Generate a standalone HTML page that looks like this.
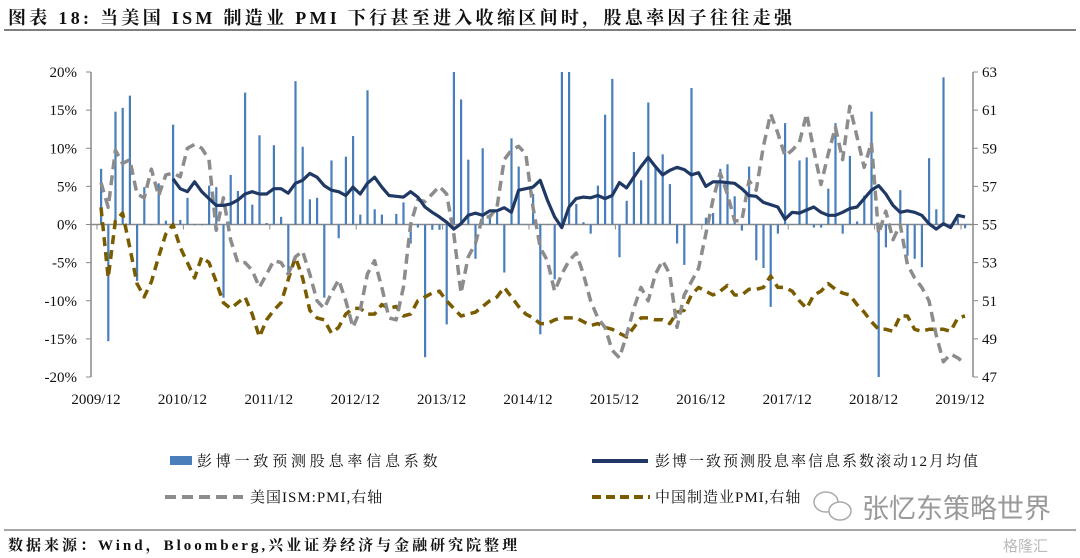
<!DOCTYPE html>
<html><head><meta charset="utf-8">
<style>
body{margin:0;background:#fff;width:1080px;height:558px;overflow:hidden;font-family:"Liberation Serif","Noto Serif CJK SC",serif;}
svg{position:absolute;left:0;top:0}
</style></head>
<body>
<svg id="chart" width="1080" height="558">
<text x="8" y="24" font-size="18" font-weight="bold" fill="#111" letter-spacing="3.3">图表 18:  当美国 ISM 制造业 PMI 下行甚至进入收缩区间时，股息率因子往往走强</text>
<line x1="4" y1="30" x2="1076" y2="30" stroke="#333" stroke-width="1.2"/>
<g id="axes"></g>
<g id="bars"></g>
<g id="lines"></g>
<g font-size="15" fill="#111" letter-spacing="3.8">
 <rect x="170" y="456" width="22" height="9" fill="#4a7ebb"/>
 <text x="197" y="466">彭博一致预测股息率信息系数</text>
 <line x1="592" y1="461" x2="648" y2="461" stroke="#1f3864" stroke-width="4"/>
 <text x="655" y="466" letter-spacing="2">彭博一致预测股息率信息系数滚动12月均值</text>
 <line x1="165" y1="497" x2="243" y2="497" stroke="#8c8c8c" stroke-width="4" stroke-dasharray="11,6"/>
 <text x="250" y="502" letter-spacing="1">美国ISM:PMI,右轴</text>
 <line x1="592" y1="497" x2="650" y2="497" stroke="#7a5c00" stroke-width="4" stroke-dasharray="9,5"/>
 <text x="655" y="502" letter-spacing="1">中国制造业PMI,右轴</text>
</g>
<g>
 <ellipse cx="826" cy="502" rx="12" ry="10" fill="none" stroke="#aaa" stroke-width="1.5"/>
 <ellipse cx="840" cy="511" rx="11" ry="9" fill="#fff" stroke="#aaa" stroke-width="1.5"/>
 <text x="862" y="518" font-size="27" fill="#999" font-family="'Noto Sans CJK SC',sans-serif">张忆东策略世界</text>
</g>
<line x1="4" y1="530" x2="1076" y2="530" stroke="#888" stroke-width="1.5"/>
<text x="8" y="550" font-size="15" font-weight="bold" fill="#111" letter-spacing="3">数据来源：Wind，Bloomberg,兴业证券经济与金融研究院整理</text>
<text x="1003" y="551" font-size="15" fill="#bbb" font-family="'Noto Sans CJK SC',sans-serif">格隆汇</text>
</svg>
<script>
const months = ["2009/12","2010/12","2011/12","2012/12","2013/12","2014/12","2015/12","2016/12","2017/12","2018/12","2019/12"];
const leftTicks = [20,15,10,5,0,-5,-10,-15,-20];
const rightTicks = [63,61,59,57,55,53,51,49,47];
const icBars = [7.3,-15.3,14.8,15.3,16.9,-7.4,4.9,-0.1,5.4,0.5,13.1,0.6,3.5,-0.1,-0.1,5.1,4.9,-9.6,6.5,4.4,17.3,2.6,11.7,0.2,10.4,1,-6.3,18.8,10.2,3.3,3.5,-9.6,8.4,-1.8,8.9,11.6,1.3,17.6,2,1.3,0,1.4,2.9,-2.5,-0.4,-17.4,-0.7,-0.7,-13.1,20,16.4,8.5,-4.5,10,1.4,1.6,-6.3,11.3,7.6,0,4.0,-14.4,0,-7.2,20,20,2.7,0.3,-1.2,5.1,14.4,19.1,-4.3,3.1,9.5,5.8,16,7.6,9.2,5.3,-2.5,-5.3,17.9,0,0.9,1.5,7.3,7.9,3.7,-0.8,7.6,-4.7,-5.7,-10.8,-1.2,13.3,0,8.4,8.8,-0.4,-0.4,4.7,13.3,-1.2,9,0.4,3.8,14.8,-20,-3,0,4.5,-4.1,-4.5,-5.6,8.7,2,19.3,0,0.8,-0.5];
const maStart = 10;
const icMA = [6.0,4.7,4.3,5.6,4.3,3.4,2.5,2.5,2.7,3.2,4,4.3,4,4,4.7,4.7,4.1,5.4,5.8,6.7,6.2,5.1,4.5,4.3,3.8,4.9,4,5.4,6.2,4.9,3.8,3.7,3.6,4.3,3.6,2.3,1.6,1,0.3,-0.6,0.1,1.2,1.5,1.2,1.8,1.8,2.2,1.6,4.5,4.7,4.9,5.8,3.2,1,-0.4,2.3,3.4,3.6,3.5,3.8,3.4,3.8,5.5,4.8,6.2,7.6,8.8,7.6,6.5,7.1,7.5,7.2,6.5,6.8,5,5.6,5.6,5.5,5.4,4.7,3.8,3.7,2.9,2.6,2.3,0.7,1.6,1.5,1.9,2.3,1.6,1.2,1.2,1.6,2.1,2.3,3.4,4.5,5.1,4,2.5,1.6,1.8,1.6,1.2,0.1,-0.6,0.1,-0.4,1.2,1];
const usPMI = [57.2,55.9,58.9,58.2,58.4,56.6,56.4,57.9,56.5,57.6,57.7,57.5,59,59.2,59,58.4,54.7,56.4,54.2,53,53,52.6,51.7,52.4,53.1,53,52.4,53.3,53.6,52.4,51,50.6,51.4,52.1,51,49.6,50.5,52.4,53.1,51.7,50.1,50,51.7,55,56.3,56.2,56.6,57,56.6,54.5,51.4,53.3,54,55.4,55.4,55.9,58.4,58.9,59.1,58.7,55.9,53.8,53.1,51.5,52.4,53.1,53.5,52.4,51,50.1,49.6,48.4,48,49.2,50.6,51.7,51,52.4,53.1,52.4,49.6,51.3,52,52.7,54.5,56.3,57.7,56.6,55.2,55.2,57.3,56.8,59.1,60.8,59.8,58.6,58.9,59.3,60.8,58.9,57.1,58.7,60.1,58.4,61.2,59.6,58,59.3,54.5,55.7,54.2,55,52.9,52.2,51.7,51,49.2,47.8,48.2,48,47.7];
const cnPMI = [55.9,52.2,55.2,55.6,53.8,51.9,51.2,52,53.3,54.5,55,53.8,53,52.2,53.3,53,52,50.9,50.6,50.9,51.2,50.3,49.1,50,50.5,50.9,52.1,53.3,52.2,50.5,50.1,50,49.3,49.6,50.3,50.6,50.6,50.3,50.3,50.8,50.6,50.7,50.2,50.3,51,51.2,51.4,51.5,51,50.6,50.2,50.3,50.4,50.7,51,51.2,51.7,51.2,50.7,50.3,50.1,49.8,49.8,50,50.1,50.1,50.1,49.9,49.7,49.8,49.6,49.5,49.3,49.1,49.6,50.1,50.1,50,50,49.8,50.4,50.5,51.3,51.7,51.5,51.3,51.5,51.8,51.3,51.3,51.6,51.6,51.7,52.3,51.7,51.7,51.5,51,50.6,51.3,51.5,51.9,51.6,51.4,51.3,50.8,50.4,49.9,49.5,49.5,49.4,50.2,50.2,49.5,49.4,49.5,49.5,49.5,49.4,50.1,50.2];

const NS="http://www.w3.org/2000/svg";
const X0=101, DX=7.2, PL=91, PR=973, YT=72, YB=377;
const xAt=i=>X0+i*DX;
const yL=v=>YT+(20-v)*(YB-YT)/40;
const yR=v=>YT+(63-v)*(YB-YT)/16;
function mk(tag,attrs,parent){const e=document.createElementNS(NS,tag);for(const k in attrs)e.setAttribute(k,attrs[k]);parent.appendChild(e);return e;}
const axes=document.getElementById('axes'),bars=document.getElementById('bars'),lines=document.getElementById('lines');

let e=mk('line',{x1:PL,y1:YT,x2:PL,y2:YB,stroke:'#888','stroke-width':1.5},axes);


e=mk('line',{x1:PR,y1:YT,x2:PR,y2:YB,stroke:'#888','stroke-width':1.5},axes);


leftTicks.forEach(v=>{
  mk('line',{x1:PL-5,y1:yL(v),x2:PL,y2:yL(v),stroke:'#888'},axes);
  const t=mk('text',{x:PL-14,y:yL(v)+5,'font-size':15,'text-anchor':'end',fill:'#111'},axes);
  t.textContent=v+'%';
  
  
});
rightTicks.forEach(v=>{
  mk('line',{x1:PR,y1:yR(v),x2:PR+5,y2:yR(v),stroke:'#888'},axes);
  const t=mk('text',{x:PR+9,y:yR(v)+5,'font-size':15,fill:'#111'},axes);
  t.textContent=v;
  
  
});
months.forEach((m,k)=>{
  const t=mk('text',{x:xAt(k*12)-5,y:404,'font-size':15,'text-anchor':'middle',fill:'#111'},axes);
  t.textContent=m;
  
  
});

icBars.forEach((v,i)=>{
  const y0=yL(0),y1=yL(Math.max(-20,Math.min(20,v)));
  const r=mk('rect',{x:xAt(i)-1,y:Math.min(y0,y1),width:2.2,height:Math.max(0.5,Math.abs(y1-y0)),fill:'#4a7ebb'},bars);
  
  
});
e=mk('line',{x1:PL,y1:yL(0),x2:PR,y2:yL(0),stroke:'#888','stroke-width':1.5},axes);


for(let k=0;k<=10;k++){mk('line',{x1:xAt(k*12)-4,y1:yL(0),x2:xAt(k*12)-4,y2:yL(0)+5,stroke:'#888'},axes);}

function path(arr,start,yf){return arr.map((v,i)=>(i?'L':'M')+xAt(start+i).toFixed(1)+','+yf(v).toFixed(1)).join(' ');}
e=mk('path',{d:path(cnPMI,0,yR),fill:'none',stroke:'#7a5c00','stroke-width':3.5,'stroke-dasharray':'9,6','stroke-linejoin':'round'},lines);


e=mk('path',{d:path(usPMI,0,yR),fill:'none',stroke:'#8c8c8c','stroke-width':3.5,'stroke-dasharray':'10,6','stroke-linejoin':'round'},lines);


e=mk('path',{d:path(icMA,maStart,yL),fill:'none',stroke:'#1f3864','stroke-width':3.2,'stroke-linejoin':'round'},lines);


</script>
</body></html>
